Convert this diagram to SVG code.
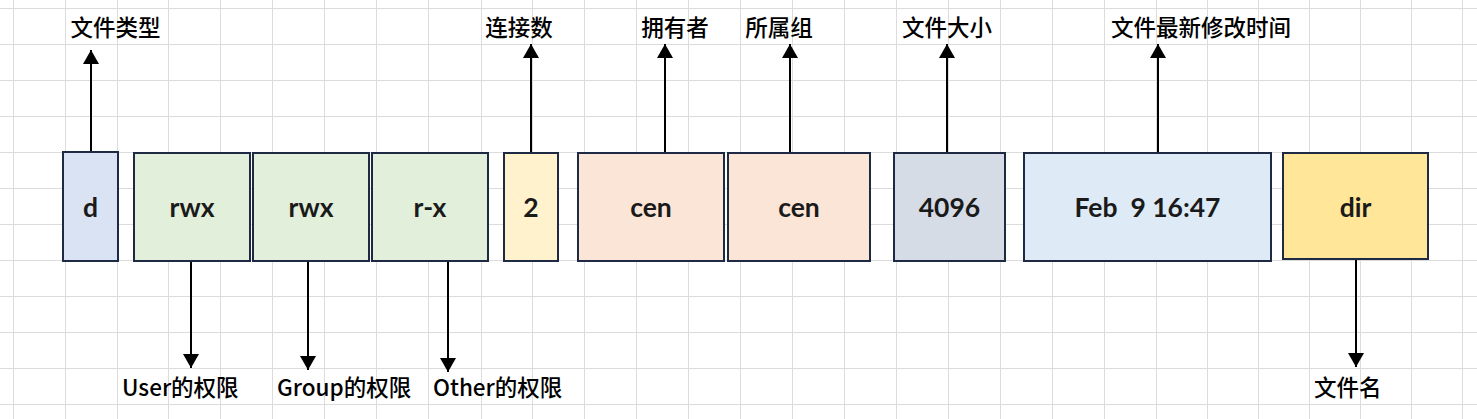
<svg xmlns="http://www.w3.org/2000/svg" width="1477" height="419" viewBox="0 0 1477 419">
<style>
.grid{stroke:#dcdcdc;stroke-width:1;fill:none}
.box{stroke:#1e2a44;stroke-width:2}
.bt{font-family:Lato,"Liberation Sans",sans-serif;font-weight:700;font-size:26.5px;fill:#1a1a1a;text-anchor:middle;white-space:pre}
.lb{font-family:"Noto Sans CJK SC","Noto Sans",sans-serif;font-size:22.5px;font-weight:500;fill:#000}
.c{text-anchor:middle}
.ar{stroke:#000;stroke-width:2;fill:none;marker-end:url(#ah)}
</style>
<defs>
<marker id="ah" markerUnits="userSpaceOnUse" markerWidth="16" markerHeight="16" refX="14" refY="8" orient="auto">
<path d="M0,0 L14,8 L0,16 Z" fill="#000"/>
</marker>
</defs>
<rect width="1477" height="419" fill="#fff"/>
<g id="grid">
<path class="grid" d="M13.5,0V419M65.5,0V419M117.5,0V419M168.5,0V419M220.5,0V419M272.5,0V419M324.5,0V419M376.5,0V419M428.5,0V419M481.5,0V419M532.5,0V419M584.5,0V419M636.5,0V419M688.5,0V419M740.5,0V419M792.5,0V419M844.5,0V419M896.5,0V419M948.5,0V419M1000.5,0V419M1052.5,0V419M1104.5,0V419M1156.5,0V419M1207.5,0V419M1258.5,0V419M1309.5,0V419M1360.5,0V419M1411.5,0V419M1462.5,0V419M0,8.5H1477M0,44.5H1477M0,80.5H1477M0,116.5H1477M0,152.5H1477M0,188.5H1477M0,224.5H1477M0,260.5H1477M0,296.5H1477M0,332.5H1477M0,368.5H1477M0,404.5H1477"/>
</g>
<g id="connectors">
<line class="ar" x1="91" y1="152" x2="91" y2="50"/>
<line class="ar" x1="531" y1="152" x2="531" y2="44"/>
<line class="ar" x1="665" y1="152" x2="665" y2="44"/>
<line class="ar" x1="790" y1="152" x2="790" y2="44"/>
<line class="ar" x1="947" y1="152" x2="947" y2="44"/>
<line class="ar" x1="1158" y1="152" x2="1158" y2="44"/>
<line class="ar" x1="191" y1="261" x2="191" y2="368"/>
<line class="ar" x1="308" y1="261" x2="308" y2="370"/>
<line class="ar" x1="448" y1="261" x2="448" y2="372"/>
<line class="ar" x1="1356" y1="260" x2="1356" y2="367"/>
</g>
<g id="n-type"><rect class="box" x="63" y="152" width="55" height="109" fill="#dae3f3"/><text class="bt" x="90.5" y="217">d</text></g>
<g id="n-user"><rect class="box" x="134" y="153" width="116" height="108" fill="#e2efda"/><text class="bt" x="192" y="217">rwx</text></g>
<g id="n-group"><rect class="box" x="253" y="153" width="116" height="108" fill="#e2efda"/><text class="bt" x="311" y="217">rwx</text></g>
<g id="n-other"><rect class="box" x="372" y="153" width="116" height="108" fill="#e2efda"/><text class="bt" x="430" y="217">r-x</text></g>
<g id="n-links"><rect class="box" x="504" y="153" width="54" height="108" fill="#fff2cc"/><text class="bt" x="531" y="217">2</text></g>
<g id="n-owner"><rect class="box" x="578" y="153" width="146" height="108" fill="#fbe5d6"/><text class="bt" x="651" y="217">cen</text></g>
<g id="n-grp"><rect class="box" x="728" y="153" width="142" height="108" fill="#fbe5d6"/><text class="bt" x="799" y="217">cen</text></g>
<g id="n-size"><rect class="box" x="894" y="153" width="111" height="108" fill="#d6dce5"/><text class="bt" x="949.5" y="217">4096</text></g>
<g id="n-time"><rect class="box" x="1024" y="153" width="247" height="108" fill="#deebf7"/><text class="bt" x="1147.5" y="217" xml:space="preserve">Feb  9 16:47</text></g>
<g id="n-name"><rect class="box" x="1283" y="153" width="145" height="106" fill="#ffe699"/><text class="bt" x="1355.5" y="217">dir</text></g>
<g id="labels">
<text class="lb c" x="115.5" y="36">文件类型</text>
<text class="lb c" x="519" y="36">连接数</text>
<text class="lb c" x="675" y="36">拥有者</text>
<text class="lb c" x="779" y="36">所属组</text>
<text class="lb c" x="947" y="36">文件大小</text>
<text class="lb c" x="1201" y="36">文件最新修改时间</text>
<text class="lb" x="122" y="396">User的权限</text>
<text class="lb" x="277" y="396">Group的权限</text>
<text class="lb" x="433" y="396">Other的权限</text>
<text class="lb" x="1314" y="396">文件名</text>
</g>
</svg>
